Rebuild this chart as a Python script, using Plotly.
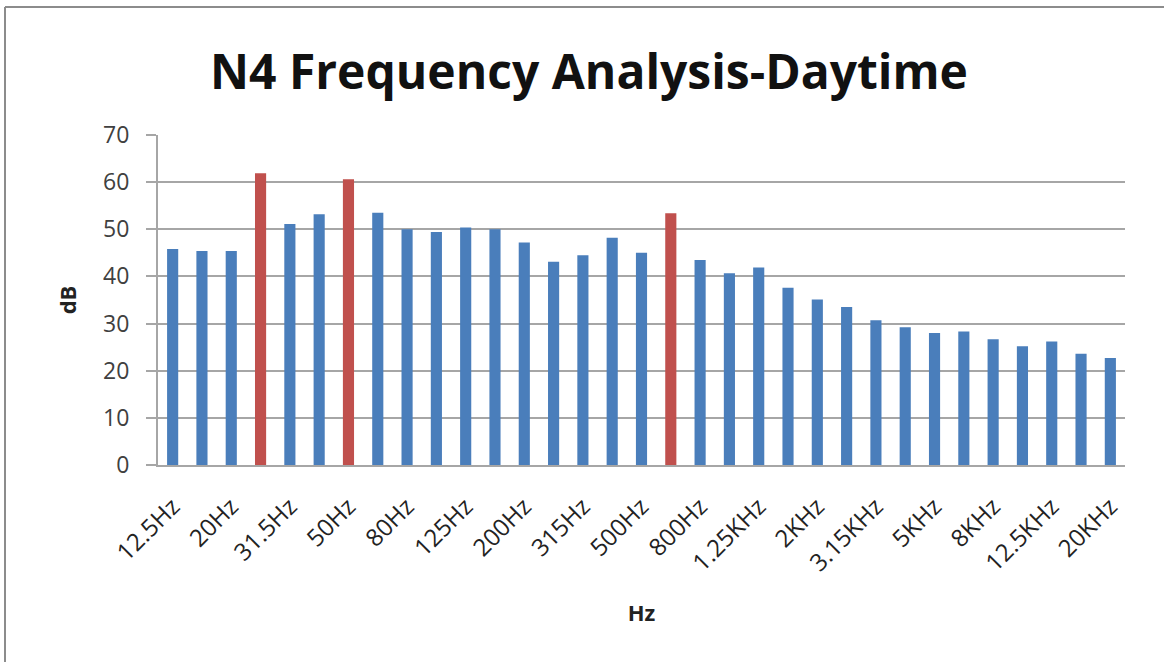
import plotly.graph_objects as go

bands = ["12.5Hz", "16Hz", "20Hz", "25Hz", "31.5Hz", "40Hz", "50Hz", "63Hz", "80Hz", "100Hz",
         "125Hz", "160Hz", "200Hz", "250Hz", "315Hz", "400Hz", "500Hz", "630Hz", "800Hz", "1KHz",
         "1.25KHz", "1.6KHz", "2KHz", "2.5KHz", "3.15KHz", "4KHz", "5KHz", "6.3KHz", "8KHz", "10KHz",
         "12.5KHz", "16KHz", "20KHz"]
levels_db = [45.8, 45.4, 45.4, 61.9, 51.1, 53.2, 60.6, 53.5, 50.0, 49.4,
             50.4, 50.0, 47.2, 43.1, 44.5, 48.2, 45.0, 53.4, 43.5, 40.7,
             41.9, 37.6, 35.1, 33.5, 30.7, 29.2, 28.0, 28.3, 26.7, 25.2,
             26.2, 23.6, 22.7]
highlighted = ["25Hz", "50Hz", "630Hz"]
tick_labels = bands[::2]

BLUE = "#4A7EBB"
RED = "#C0504D"
colors = [RED if b in highlighted else BLUE for b in bands]

font_family = "Open Sans, Lato, sans-serif"

fig = go.Figure(go.Bar(x=bands, y=levels_db, marker=dict(color=colors, line=dict(width=0)),
                       width=0.38))

fig.update_layout(
    width=1164, height=662,
    margin=dict(l=158, r=39, t=135, b=197),
    paper_bgcolor="white", plot_bgcolor="white",
    showlegend=False,
    font=dict(family=font_family, color="#404040"),
    title=dict(text="<b>N4 Frequency Analysis-Daytime</b>", x=0.506, xanchor="center",
               y=1 - 72 / 662, yanchor="middle",
               font=dict(size=48, color="#111111", family=font_family)),
)
fig.update_xaxes(
    type="category",
    tickmode="array", tickvals=tick_labels, ticktext=tick_labels,
    tickangle=-45, tickfont=dict(size=24, color="#222222"),
    ticks="", showgrid=False,
    showline=True, linecolor="#a6a6a6", linewidth=2,
    ticklabelstandoff=16,
    title=dict(text="<b>Hz</b>", font=dict(size=22, color="#222222"), standoff=29),
)
fig.update_yaxes(
    range=[0, 70], dtick=10, tick0=0,
    showgrid=True, gridcolor="#a6a6a6", gridwidth=2,
    zeroline=False,
    showline=True, linecolor="#a6a6a6", linewidth=2,
    ticks="outside", ticklen=10, tickcolor="#a6a6a6", tickwidth=2,
    tickfont=dict(size=23, color="#404040"),
    ticklabelstandoff=12,
    title=dict(text="<b>dB</b>", font=dict(size=22, color="#222222"), standoff=20),
)

# outer frame (top and left edges of the chart box)
x_left = -153 / 967
y_top = 1 + 128 / 330
fig.add_shape(type="line", xref="paper", yref="paper",
              x0=x_left, x1=(1164 - 158) / 967, y0=y_top, y1=y_top,
              line=dict(color="#8c8c8c", width=2))
fig.add_shape(type="line", xref="paper", yref="paper",
              x0=x_left, x1=x_left, y0=-197 / 330, y1=y_top,
              line=dict(color="#8c8c8c", width=2))

fig.write_html("out.html")
